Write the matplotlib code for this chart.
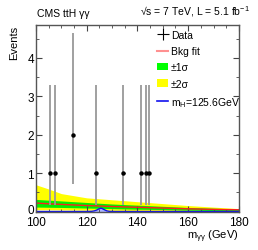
import matplotlib
matplotlib.use("Agg")
import matplotlib.pyplot as plt
import matplotlib.transforms as mtransforms
from matplotlib.ticker import MultipleLocator, FixedLocator
from matplotlib.patches import Patch
from matplotlib.lines import Line2D

plt.rcParams['font.family'] = ['Liberation Sans', 'DejaVu Sans']
plt.rcParams['mathtext.fontset'] = 'custom'
plt.rcParams['mathtext.rm'] = 'Liberation Sans'
plt.rcParams['mathtext.it'] = 'Liberation Sans'
plt.rcParams['mathtext.sf'] = 'Liberation Sans'

# data points (1 GeV bins, only non-empty shown)
data_x = [105.5, 107.5, 114.5, 123.5, 134.5, 141.5, 143.5, 144.5]
data_y = [1, 1, 2, 1, 1, 1, 1, 1]
err_lo = [0.83, 0.83, 1.29, 0.83, 0.83, 0.83, 0.83, 0.83]
err_hi = [2.30, 2.30, 2.64, 2.30, 2.30, 2.30, 2.30, 2.30]

# background fit and bands
fit_x = [100, 105, 110, 120, 130, 140, 150, 160, 170, 180]
bkg = [0.225, 0.205, 0.19, 0.16, 0.135, 0.115, 0.095, 0.075, 0.06, 0.05]
s1_lo = [0.12, 0.115, 0.11, 0.095, 0.08, 0.065, 0.055, 0.04, 0.03, 0.02]
s1_hi = [0.32, 0.30, 0.28, 0.24, 0.20, 0.17, 0.14, 0.11, 0.09, 0.07]
s2_lo = [0.05, 0.05, 0.045, 0.04, 0.035, 0.03, 0.02, 0.015, 0.01, 0.005]
s2_hi = [0.70, 0.59, 0.47, 0.36, 0.31, 0.26, 0.21, 0.16, 0.12, 0.08]

# signal
sig_x = [100, 120, 122, 123, 124, 125, 125.6, 126, 127, 128, 129, 131, 180]
sig_y = [0.005, 0.005, 0.01, 0.02, 0.045, 0.08, 0.09, 0.085, 0.05, 0.02, 0.008, 0.005, 0.005]

y_ticks = [0, 1, 2, 3, 4]

fig = plt.figure(figsize=(2.58, 2.51), dpi=100)
ax = fig.add_axes([0.1395, 0.1526, 0.7865, 0.7434])

ax.fill_between(fit_x, s2_lo, s2_hi, color='#ffff00', lw=0)
ax.fill_between(fit_x, s1_lo, s1_hi, color='#00ee00', lw=0)
ax.plot(fit_x, bkg, color='#ff2020', lw=1.0)
ax.fill_between(sig_x, 0, sig_y, color='#aab4ff', lw=0)
ax.plot(sig_x, sig_y, color='#1010ee', lw=1.0)

yerr = [err_lo, err_hi]
ax.errorbar(data_x, data_y, yerr=yerr, fmt='none', ecolor='#999999', elinewidth=1.3)
ax.errorbar(data_x, data_y, xerr=0.5, fmt='o', color='black', ms=2.2, elinewidth=0.8, capsize=0)

ax.set_xlim(100, 180)
ax.set_ylim(0, 4.85)
ax.xaxis.set_major_locator(MultipleLocator(20))
ax.xaxis.set_minor_locator(MultipleLocator(5))
ax.yaxis.set_major_locator(FixedLocator(y_ticks))
ax.yaxis.set_minor_locator(MultipleLocator(0.5))
ax.tick_params(which='both', direction='in', top=True, right=True, labelsize=8.5,
               color='#444444')
ax.tick_params(axis='x', pad=3)
ax.tick_params(axis='y', pad=1.5)
ax.tick_params(which='major', length=4)
ax.tick_params(which='minor', length=2)
for s in ax.spines.values():
    s.set_color('#555555')
    s.set_linewidth(1.0)

# nudge only the "0" label up slightly so it does not sit on "100"
t0 = ax.yaxis.get_major_ticks()[0]
t0.label1.set_transform(t0.label1.get_transform() +
                        mtransforms.ScaledTranslation(0, 2.5 / 72, fig.dpi_scale_trans))

ax.set_ylabel('Events', fontsize=8, loc='top', labelpad=6)
ax.set_xlabel(r'm$_{γγ}$ (GeV)', fontsize=8, loc='right', labelpad=0)

fig.text(0.143, 0.925, 'CMS ttH γγ', fontsize=7.5, ha='left', va='bottom')
fig.text(0.968, 0.925, '√s = 7 TeV, L = 5.1 fb$^{-1}$', fontsize=7.5, ha='right', va='bottom')

handles = [
    Line2D([], [], color='black', marker='+', ms=8, lw=0, markeredgewidth=0.8),
    Line2D([], [], color='#ff9090', lw=1.5),
    Patch(facecolor='#00ff00', edgecolor='none'),
    Patch(facecolor='#ffff00', edgecolor='none'),
    Line2D([], [], color='#1010ee', lw=1.2),
]
labels = ['Data', 'Bkg fit', '±1σ', '±2σ', 'm$_H$=125.6GeV']
ax.legend(handles, labels, loc='upper left', bbox_to_anchor=(0.585, 0.985), frameon=False,
          fontsize=7.5, handlelength=1.1, handletextpad=0.25, labelspacing=0.6,
          borderaxespad=0.0, borderpad=0.2)

fig.savefig('out.png', dpi=100)
